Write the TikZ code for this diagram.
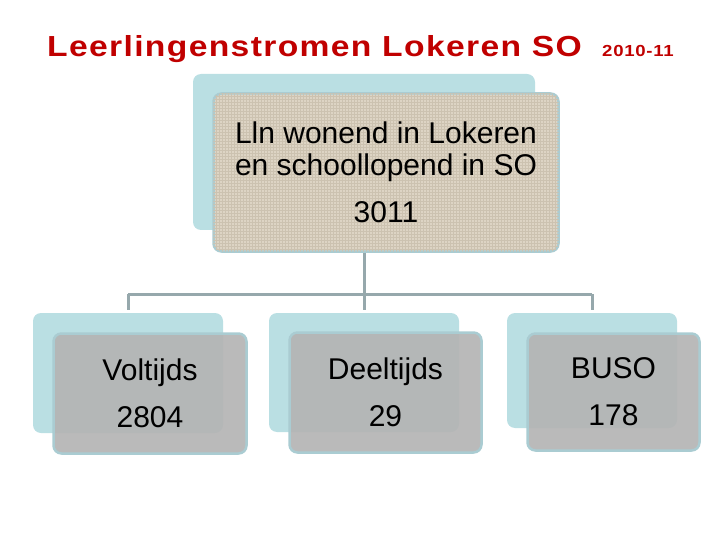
\documentclass[tikz,border=0pt]{standalone}
\usepackage{fontspec}
\setmainfont{Liberation Sans}
\newfontfamily\titlefont[LetterSpace=4]{Liberation Sans}
\usetikzlibrary{patterns}

\definecolor{titlered}{RGB}{192,0,0}
\definecolor{backblue}{RGB}{186,223,227}
\definecolor{edgeblue}{RGB}{170,204,210}
\definecolor{linkgray}{RGB}{150,168,172}
\definecolor{boxgray}{RGB}{180,180,180}
\definecolor{linen}{RGB}{221,212,196}
\definecolor{linengrid}{RGB}{204,194,176}

\tikzset{
  titletext/.style={text=titlered, inner sep=0pt, font=\titlefont\bfseries\fontsize{29}{32}\selectfont},
  backbox/.style={fill=backblue, rounded corners=8pt, inner sep=0pt},
  frontbox/.style={draw=edgeblue, line width=2.5pt, rounded corners=8pt, inner sep=0pt, align=center,
    fill=boxgray, fill opacity=0.92, text opacity=1, font=\fontsize{30}{32}\selectfont},
  linenbox/.style={fill=linen, fill opacity=1, postaction={pattern=grid, pattern color=linengrid}},
  link/.style={draw=linkgray, line width=3pt}
}

\begin{document}
\begin{tikzpicture}[x=1pt,y=-1pt]
\useasboundingbox (0,0) rectangle (720,540);

% title
\node[titletext, anchor=base west] (title) at (47,57) {\scalebox{1.16}[1]{Leerlingenstromen Lokeren SO}};
\node[titletext, font=\titlefont\bfseries\fontsize{16}{18}\selectfont, anchor=base west] (year) at (602,57) {\scalebox{1.16}[1]{2010-11}};

% top box
\node[backbox, minimum width=342pt, minimum height=156pt] (topback) at (364,152) {};
\node[frontbox, linenbox, minimum width=345pt, minimum height=158pt] (topfront) at (386,172.5)
  {Lln wonend in Lokeren\\en schoollopend in SO\\[15pt]3011};

% bottom boxes
\node[backbox, minimum width=190pt, minimum height=120pt] (voltback) at (128,373) {};
\node[frontbox, minimum width=193pt, minimum height=120pt] (voltfront) at (150,393.5) {Voltijds\\[15pt]2804};

\node[backbox, minimum width=190pt, minimum height=119pt] (deelback) at (364,372.5) {};
\node[frontbox, minimum width=192pt, minimum height=120pt] (deelfront) at (385.5,392.5) {Deeltijds\\[15pt]29};

\node[backbox, minimum width=170pt, minimum height=115pt] (busoback) at (592,370.5) {};
\node[frontbox, minimum width=172pt, minimum height=117pt] (busofront) at (613.5,392) {BUSO\\[15pt]178};

% connectors
\coordinate (split) at (364,294);
\draw[link] (topback.south |- topfront.south) -- (split);
\draw[link] (voltback.north |- split) -- (busoback.north |- split);
\draw[link] (voltback.north |- split) -- ([yshift=3pt]voltback.north);
\draw[link] (split) -- ([yshift=3pt]deelback.north);
\draw[link] (busoback.north |- split) -- ([yshift=3pt]busoback.north);
\end{tikzpicture}
\end{document}
